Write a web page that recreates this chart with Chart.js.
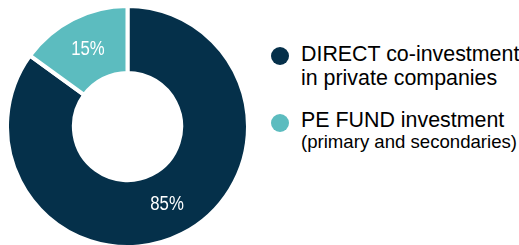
<!DOCTYPE html>
<html>
<head>
<meta charset="utf-8">
<script src="https://cdn.jsdelivr.net/npm/chart.js@4"></script>
<style>
  html, body { margin: 0; padding: 0; background: #fff; }
  body { width: 519px; height: 245px; overflow: hidden; position: relative; font-family: "Liberation Sans", Arial, sans-serif; }
  #chartWrap { position: absolute; left: 5px; top: 4px; width: 245px; height: 245px; }
  .item { position: absolute; left: 271px; color: #000; }
  .dot { position: absolute; left: 0; top: 4px; width: 18px; height: 18px; border-radius: 50%; }
  .line1 { position: absolute; left: 30px; white-space: nowrap; font-size: 21.4px; line-height: 24px; }
  .line2 { position: absolute; left: 30px; white-space: nowrap; }
</style>
</head>
<body>
<div id="chartWrap"><canvas id="chartMix"></canvas></div>
<div id="legend"></div>
<script>
// data
const labels    = ['DIRECT co-investment', 'PE FUND investment'];
const subLabels = ['in private companies', '(primary and secondaries)'];
const values    = [85, 15];
const colors    = ['#05304a', '#5cbcbf'];

// legend (html so the two-line labels stay as text)
const legendTops = [42, 108];
const legend = document.getElementById('legend');
labels.forEach((lab, i) => {
  const d = document.createElement('div');
  d.className = 'item';
  d.style.top = legendTops[i] + 'px';
  const sub = i === 0
    ? `<div class="line2" style="top:24px;font-size:21.4px;line-height:24px">${subLabels[i]}</div>`
    : `<div class="line2" style="top:25px;font-size:18.6px;line-height:18px">${subLabels[i]}</div>`;
  d.innerHTML = `<span class="dot" style="background:${colors[i]};top:${i ? 6 : 5}px"></span><div class="line1" style="top:0">${lab}</div>` + sub;
  legend.appendChild(d);
});

// percent labels in the middle of each slice (slightly condensed)
const pctLabels = {
  id: 'pctLabels',
  afterDatasetsDraw(chart) {
    const ctx = chart.ctx;
    const meta = chart.getDatasetMeta(0);
    meta.data.forEach((arc, i) => {
      const p = arc.tooltipPosition();
      ctx.save();
      ctx.fillStyle = '#fff';
      ctx.font = '19.5px "Liberation Sans", Arial, sans-serif';
      ctx.textAlign = 'center';
      ctx.textBaseline = 'middle';
      ctx.translate(p.x, p.y + 1);
      ctx.scale(0.86, 1);
      ctx.fillText(values[i] + '%', 0, 0);
      ctx.restore();
    });
  }
};

new Chart(document.getElementById('chartMix').getContext('2d'), {
  type: 'doughnut',
  data: {
    labels,
    datasets: [{ data: values, backgroundColor: colors, borderColor: '#fff', borderWidth: 4 }]
  },
  options: {
    responsive: true, maintainAspectRatio: false, animation: false,
    cutout: '44.5%',
    layout: { padding: 0 },
    plugins: { legend: { display: false }, tooltip: { enabled: false } }
  },
  plugins: [pctLabels]
});
</script>
</body>
</html>
